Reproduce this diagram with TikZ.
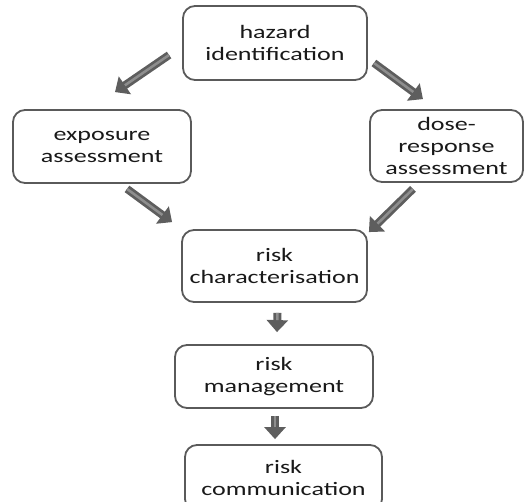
\documentclass[tikz,border=0pt]{standalone}
\usepackage{fontspec}
\setmainfont{Carlito}[FakeStretch=1.37]
\usetikzlibrary{arrows.meta}
\definecolor{boxline}{HTML}{5A5A5A}
\definecolor{arrowdark}{HTML}{5E5E5E}
\definecolor{arrowlight}{HTML}{8E8E8E}
\tikzset{
  stagebox/.style={draw=boxline, line width=1.8pt, fill=white, rounded corners=12pt,
    align=center, inner sep=0pt, font=\fontsize{19}{22}\selectfont, text=black!90},
  blockarrow/.style={draw=arrowdark, line width=8pt,
    -{Triangle[width=21pt,length=12pt]},
    postaction={draw=arrowlight, line width=2.5pt, -, shorten >=12pt}}
}
\begin{document}
\begin{tikzpicture}[x=1pt,y=-1pt]
  \useasboundingbox (0,0) rectangle (525,502);
  % assessment stages
  \node[stagebox, minimum width=184pt, minimum height=74pt] (hazard) at (275,43)
    {hazard\\identification};
  \node[stagebox, minimum width=178pt, minimum height=73pt] (exposure) at (102,146.5)
    {exposure\\assessment};
  \node[stagebox, minimum width=153pt, minimum height=72pt] (dose) at (446.5,146)
    {dose-\\response\\assessment};
  \node[stagebox, minimum width=185pt, minimum height=72pt] (char) at (274.5,266)
    {risk\\characterisation};
  \node[stagebox, minimum width=198pt, minimum height=63pt] (mgmt) at (274,376.5)
    {risk\\management};
  \node[stagebox, minimum width=197pt, minimum height=66pt] (comm) at (283.5,478)
    {risk\\communication};
  % block arrows between stages
  \draw[blockarrow] ([shift={(-13,12)}]hazard.west) -- ([shift={(13,-17)}]exposure.north);
  \draw[blockarrow] ([shift={(6,20)}]hazard.east) -- ([shift={(-23.5,-10)}]dose.north);
  \draw[blockarrow] ([shift={(25,5)}]exposure.south) -- ([shift={(-9,-7)}]char.north west);
  \draw[blockarrow] ([shift={(-33.5,6)}]dose.south) -- ([shift={(1,3)}]char.north east);
  \draw[blockarrow] ([shift={(3,10)}]char.south) -- ([shift={(3,-12)}]mgmt.north);
  \draw[blockarrow] ([shift={(1,7)}]mgmt.south) -- ([shift={(-8.5,-5)}]comm.north);
\end{tikzpicture}
\end{document}
